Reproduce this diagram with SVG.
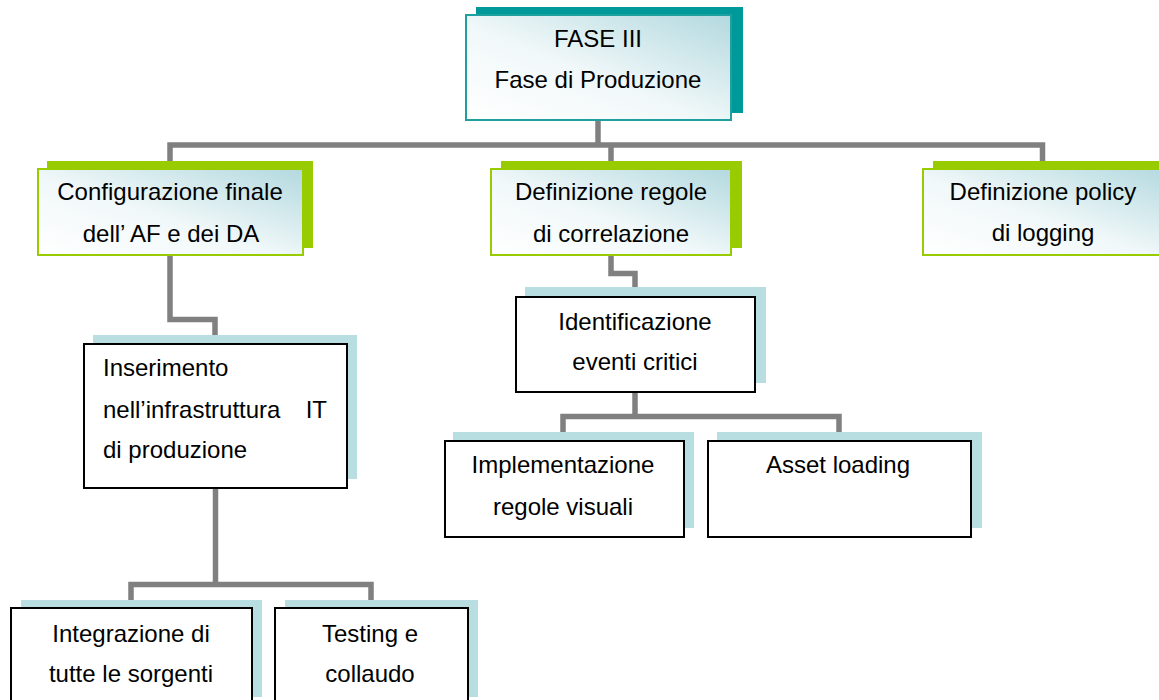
<svg xmlns="http://www.w3.org/2000/svg" width="1159" height="700" viewBox="0 0 1159 700">
  <defs>
    <linearGradient id="soft" x1="0" y1="1" x2="1" y2="0">
      <stop offset="0" stop-color="#ffffff"/>
      <stop offset="0.45" stop-color="#f1f8f9"/>
      <stop offset="1" stop-color="#b2d9df"/>
    </linearGradient>
    <style>
      text { font-family: "Liberation Sans", Arial, sans-serif; font-size: 24px; fill: #000; }
      .c { text-anchor: middle; }
      .wire { fill: none; stroke: #808080; stroke-width: 5.5; stroke-linejoin: miter; stroke-linecap: butt; }
      .sh-teal { fill: #009999; }
      .sh-green { fill: #99cc00; }
      .sh-blue { fill: #b9dee2; }
      .fr-teal { fill: url(#soft); stroke: #1ea0a0; stroke-width: 2; }
      .fr-green { fill: url(#soft); stroke: #99cc00; stroke-width: 2; }
      .fr-plain { fill: #ffffff; stroke: #000000; stroke-width: 2; }
    </style>
  </defs>

  <rect width="1159" height="700" fill="#ffffff"/>

  <!-- connectors -->
  <g id="connectors">
    <path class="wire" d="M598 121 V145"/>
    <path class="wire" d="M170 168 V145 H1042.5 V168"/>
    <path class="wire" d="M611 145 V168"/>
    <path class="wire" d="M170 256 V319.5 H215 V343"/>
    <path class="wire" d="M215.5 488 V584.5"/>
    <path class="wire" d="M131 607 V584.5 H371 V607"/>
    <path class="wire" d="M611 256 V273.5 H635 V296"/>
    <path class="wire" d="M635 392 V416.5"/>
    <path class="wire" d="M563 440 V416.5 H839 V440"/>
  </g>

  <!-- root -->
  <g id="fase3">
    <rect class="sh-teal" x="476" y="7" width="267" height="106"/>
    <rect class="fr-teal" x="466" y="15" width="265" height="105"/>
    <text class="c" x="598" y="47">FASE III</text>
    <text class="c" x="598" y="88">Fase di Produzione</text>
  </g>

  <g id="configurazione">
    <rect class="sh-green" x="47" y="161" width="266" height="87"/>
    <rect class="fr-green" x="38" y="169" width="265" height="86"/>
    <text class="c" x="170" y="200">Configurazione finale</text>
    <text class="c" x="171" y="242">dell’ AF e dei DA</text>
  </g>

  <g id="regole">
    <rect class="sh-green" x="501" y="161" width="241" height="87"/>
    <rect class="fr-green" x="491" y="169" width="240" height="86"/>
    <text class="c" x="611" y="200">Definizione regole</text>
    <text class="c" x="611" y="242">di correlazione</text>
  </g>

  <g id="policy">
    <rect class="sh-green" x="933" y="161" width="240" height="87"/>
    <rect class="fr-green" x="923" y="169" width="250" height="86"/>
    <text class="c" x="1043" y="200">Definizione policy</text>
    <text class="c" x="1043" y="241">di logging</text>
  </g>

  <g id="inserimento">
    <rect class="sh-blue" x="93" y="335" width="264" height="144"/>
    <rect class="fr-plain" x="84" y="344" width="263" height="144"/>
    <text x="103" y="376">Inserimento</text>
    <text x="103" y="418">nell’infrastruttura<tspan x="327" text-anchor="end">IT</tspan></text>
    <text x="103" y="458">di produzione</text>
  </g>

  <g id="identificazione">
    <rect class="sh-blue" x="525" y="287" width="241" height="96"/>
    <rect class="fr-plain" x="516" y="297" width="239" height="95"/>
    <text class="c" x="635" y="330">Identificazione</text>
    <text class="c" x="635" y="370">eventi critici</text>
  </g>

  <g id="implementazione">
    <rect class="sh-blue" x="453" y="432" width="241" height="96"/>
    <rect class="fr-plain" x="445" y="441" width="239" height="96"/>
    <text class="c" x="563" y="473">Implementazione</text>
    <text class="c" x="563" y="515">regole visuali</text>
  </g>

  <g id="asset">
    <rect class="sh-blue" x="717" y="432" width="265" height="96"/>
    <rect class="fr-plain" x="708" y="441" width="263" height="96"/>
    <text class="c" x="838" y="473">Asset loading</text>
  </g>

  <g id="integrazione">
    <rect class="sh-blue" x="21" y="600" width="241" height="97"/>
    <rect class="fr-plain" x="11" y="608" width="241" height="100"/>
    <text class="c" x="131" y="642">Integrazione di</text>
    <text class="c" x="131" y="682">tutte le sorgenti</text>
  </g>

  <g id="testing">
    <rect class="sh-blue" x="285" y="600" width="193" height="97"/>
    <rect class="fr-plain" x="275" y="608" width="193" height="100"/>
    <text class="c" x="370" y="642">Testing e</text>
    <text class="c" x="370" y="682">collaudo</text>
  </g>
</svg>
